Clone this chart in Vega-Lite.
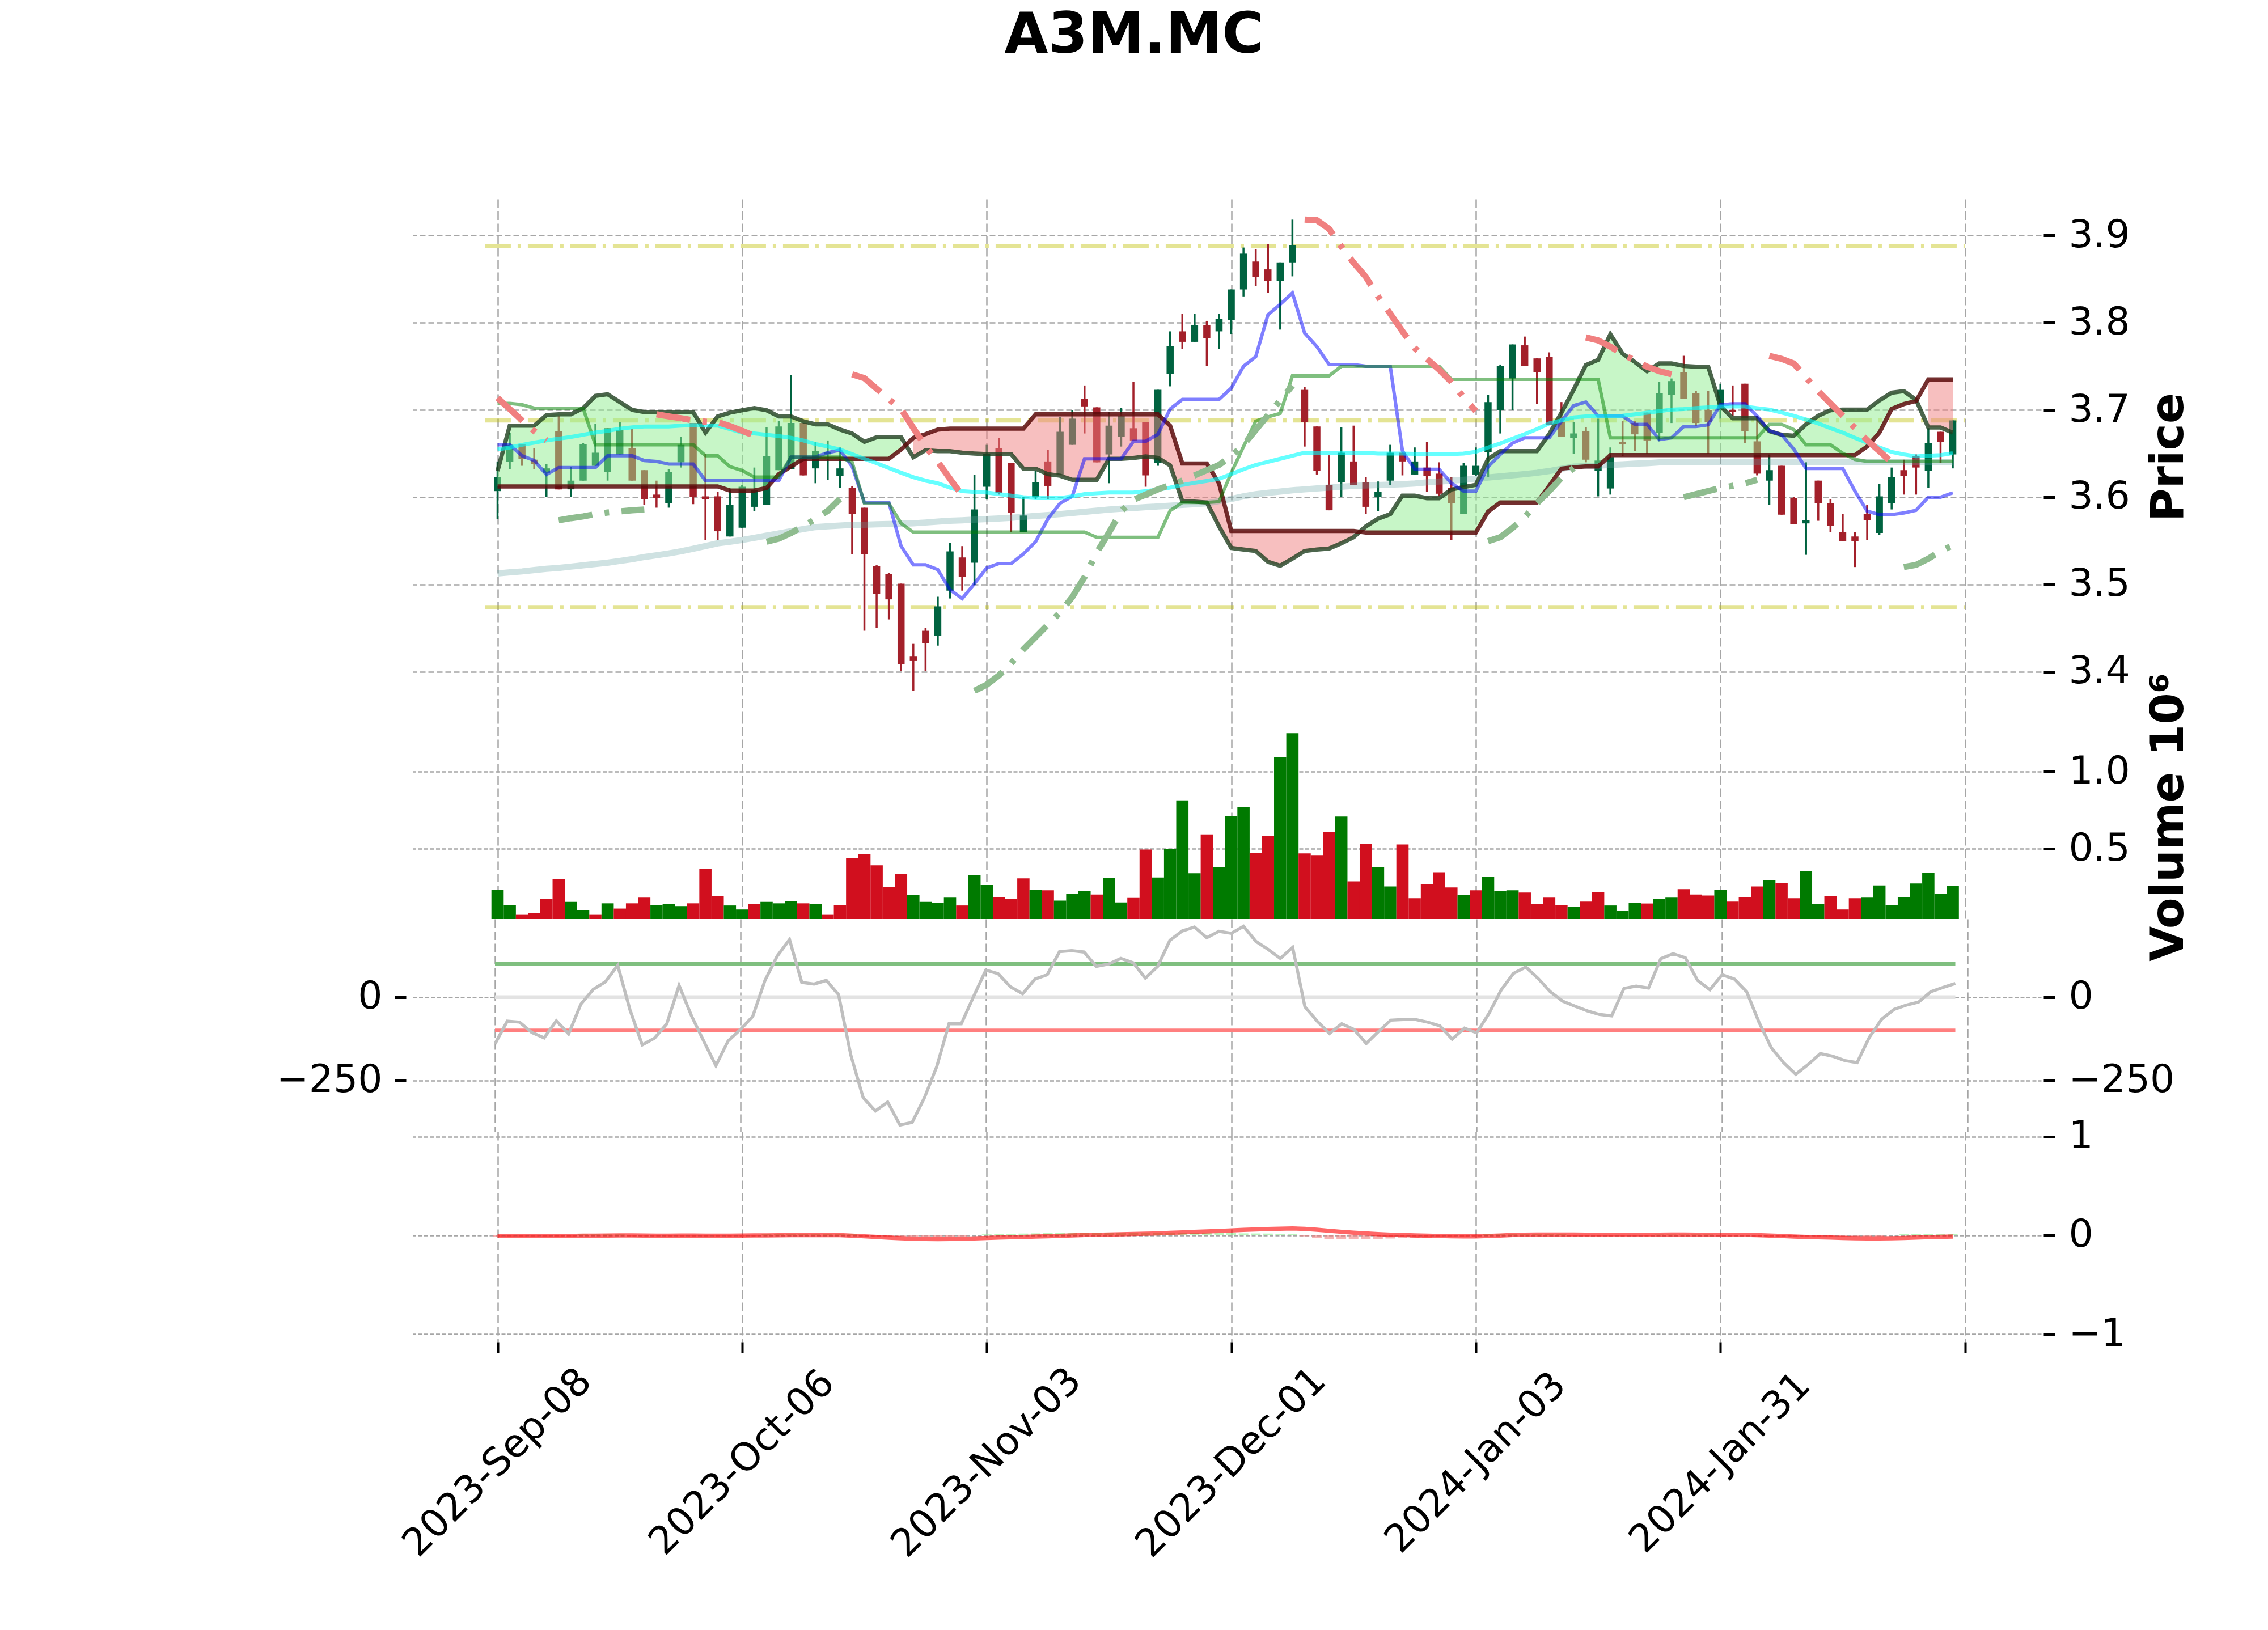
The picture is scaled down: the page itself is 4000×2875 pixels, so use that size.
{
"$schema": "https://vega.github.io/schema/vega-lite/v6.json",
"usermeta": {"embedOptions": {"actions": false}},
"background": "white",
"padding": {"left": 487, "top": 13, "right": 5, "bottom": 5},
"config": {
  "font": "DejaVu Sans",
  "view": {"stroke": null},
  "axis": {"labelFont": "DejaVu Sans", "labelFontSize": 68, "labelColor": "black", "labelLimit": 0, "titleFont": "DejaVu Sans", "titleFontSize": 80, "titleFontWeight": "bold", "titleColor": "black", "titleLimit": 0, "domain": false, "tickColor": "black", "tickSize": 20, "tickWidth": 5, "gridColor": "#a6a6a6", "gridWidth": 2.5, "gridDash": [7, 3.5]}
},
"title": {"text": "A3M.MC", "font": "DejaVu Sans", "fontSize": 100, "fontWeight": "bold", "color": "black", "anchor": "middle", "frame": "group", "dx": -164, "offset": 158, "baseline": "alphabetic"},
"spacing": 0,
"bounds": "flush",
"resolve": {"scale": {"color": "independent"}},
"data": {"name": "d"},
"datasets": {
"lv": [{"y": 3.8877, "x0": -1, "x1": 120}, {"y": 3.688, "x0": -1, "x1": 120}, {"y": 3.474, "x0": -1, "x1": 120}],
"cl": [{"y": 0, "k": "z", "x0": 0, "x1": 119}, {"y": 100, "k": "g", "x0": 0, "x1": 119}, {"y": -100, "k": "r", "x0": 0, "x1": 119}],
"d": [
{"i":0,"o":3.607,"h":3.641,"l":3.575,"c":3.623,"v":0.235,"vc":"u","cci":-140,"m":-0.006,"hs":-0.012,"tk":3.66,"kj":3.7074,"sa":3.63,"sb":3.6123,"seg":1,"m1":3.6546,"m2":3.5127,"pr":3.7137,"pg":null},
{"i":1,"o":3.6405,"h":3.674,"l":3.632,"c":3.66,"v":0.137,"vc":"u","cci":-72,"m":-0.006,"hs":-0.012,"tk":3.66,"kj":3.7074,"sa":3.682,"sb":3.6123,"seg":1,"m1":3.657,"m2":3.514,"pr":3.701,"pg":null},
{"i":2,"o":3.661,"h":3.661,"l":3.636,"c":3.644,"v":0.076,"vc":"d","cci":-75,"m":-0.006,"hs":-0.012,"tk":3.6475,"kj":3.706,"sa":3.682,"sb":3.6123,"seg":1,"m1":3.66,"m2":3.515,"pr":3.688,"pg":null},
{"i":3,"o":3.643,"h":3.656,"l":3.632,"c":3.638,"v":0.084,"vc":"d","cci":-106,"m":-0.006,"hs":-0.012,"tk":3.642,"kj":3.702,"sa":3.682,"sb":3.6123,"seg":1,"m1":3.6625,"m2":3.5165,"pr":3.6757,"pg":null},
{"i":4,"o":3.628,"h":3.638,"l":3.6,"c":3.633,"v":0.174,"vc":"d","cci":-122,"m":-0.006,"hs":-0.012,"tk":3.626,"kj":3.702,"sa":3.694,"sb":3.6123,"seg":1,"m1":3.665,"m2":3.518,"pr":3.665,"pg":null},
{"i":5,"o":3.676,"h":3.693,"l":3.609,"c":3.609,"v":0.303,"vc":"d","cci":-71,"m":-0.005,"hs":-0.012,"tk":3.634,"kj":3.702,"sa":3.695,"sb":3.6123,"seg":1,"m1":3.667,"m2":3.519,"pr":null,"pg":3.5736},
{"i":6,"o":3.609,"h":3.635,"l":3.6,"c":3.619,"v":0.156,"vc":"u","cci":-110,"m":-0.005,"hs":-0.012,"tk":3.634,"kj":3.702,"sa":3.695,"sb":3.6123,"seg":1,"m1":3.669,"m2":3.5205,"pr":null,"pg":3.576},
{"i":7,"o":3.619,"h":3.662,"l":3.619,"c":3.661,"v":0.104,"vc":"u","cci":-21,"m":-0.004,"hs":0.01,"tk":3.634,"kj":3.702,"sa":3.702,"sb":3.6123,"seg":1,"m1":3.6715,"m2":3.522,"pr":null,"pg":3.578},
{"i":8,"o":3.636,"h":3.684,"l":3.636,"c":3.651,"v":0.076,"vc":"d","cci":23,"m":-0.003,"hs":0.01,"tk":3.634,"kj":3.66,"sa":3.716,"sb":3.6123,"seg":1,"m1":3.674,"m2":3.5235,"pr":null,"pg":3.5806},
{"i":9,"o":3.629,"h":3.679,"l":3.619,"c":3.679,"v":0.147,"vc":"u","cci":46,"m":-0.002,"hs":0.01,"tk":3.6475,"kj":3.66,"sa":3.718,"sb":3.6123,"seg":1,"m1":3.676,"m2":3.525,"pr":null,"pg":3.5824},
{"i":10,"o":3.649,"h":3.686,"l":3.649,"c":3.677,"v":0.113,"vc":"d","cci":95,"m":-0.001,"hs":0.01,"tk":3.6475,"kj":3.66,"sa":3.709,"sb":3.6123,"seg":1,"m1":3.6785,"m2":3.527,"pr":null,"pg":3.5838},
{"i":11,"o":3.656,"h":3.678,"l":3.619,"c":3.619,"v":0.147,"vc":"d","cci":-38,"m":-0.001,"hs":-0.01,"tk":3.6475,"kj":3.66,"sa":3.7,"sb":3.6123,"seg":1,"m1":3.68,"m2":3.529,"pr":null,"pg":3.585},
{"i":12,"o":3.631,"h":3.631,"l":3.591,"c":3.598,"v":0.184,"vc":"d","cci":-143,"m":-0.002,"hs":-0.01,"tk":3.642,"kj":3.66,"sa":3.6975,"sb":3.6123,"seg":1,"m1":3.681,"m2":3.5315,"pr":null,"pg":3.5859},
{"i":13,"o":3.603,"h":3.619,"l":3.588,"c":3.599,"v":0.137,"vc":"u","cci":-123,"m":-0.003,"hs":-0.01,"tk":3.641,"kj":3.66,"sa":3.6975,"sb":3.6123,"seg":1,"m1":3.681,"m2":3.5335,"pr":3.695,"pg":null},
{"i":14,"o":3.593,"h":3.632,"l":3.588,"c":3.629,"v":0.143,"vc":"u","cci":-80,"m":-0.003,"hs":-0.01,"tk":3.638,"kj":3.66,"sa":3.6975,"sb":3.6123,"seg":1,"m1":3.681,"m2":3.5356,"pr":3.6926,"pg":null},
{"i":15,"o":3.64,"h":3.669,"l":3.634,"c":3.66,"v":0.129,"vc":"u","cci":35,"m":-0.002,"hs":-0.01,"tk":3.638,"kj":3.66,"sa":3.6975,"sb":3.6123,"seg":1,"m1":3.682,"m2":3.538,"pr":3.6905,"pg":null},
{"i":16,"o":3.685,"h":3.685,"l":3.592,"c":3.6,"v":0.147,"vc":"d","cci":-55,"m":-0.002,"hs":-0.01,"tk":3.638,"kj":3.66,"sa":3.6975,"sb":3.6123,"seg":1,"m1":3.6827,"m2":3.541,"pr":3.688,"pg":null},
{"i":17,"o":3.601,"h":3.65,"l":3.551,"c":3.598,"v":0.372,"vc":"d","cci":-131,"m":-0.003,"hs":-0.01,"tk":3.619,"kj":3.6475,"sa":3.674,"sb":3.6123,"seg":1,"m1":3.682,"m2":3.544,"pr":3.6865,"pg":null},
{"i":18,"o":3.601,"h":3.606,"l":3.551,"c":3.561,"v":0.195,"vc":"d","cci":-205,"m":-0.004,"hs":-0.01,"tk":3.619,"kj":3.6475,"sa":3.6926,"sb":3.6123,"seg":1,"m1":3.682,"m2":3.5472,"pr":3.686,"pg":null},
{"i":19,"o":3.555,"h":3.61,"l":3.555,"c":3.591,"v":0.133,"vc":"u","cci":-131,"m":-0.003,"hs":-0.01,"tk":3.619,"kj":3.635,"sa":3.6968,"sb":3.6077,"seg":1,"m1":3.678,"m2":3.549,"pr":3.6815,"pg":null},
{"i":20,"o":3.565,"h":3.614,"l":3.565,"c":3.612,"v":0.107,"vc":"u","cci":-97,"m":-0.002,"hs":-0.01,"tk":3.619,"kj":3.6306,"sa":3.6996,"sb":3.6077,"seg":1,"m1":3.674,"m2":3.551,"pr":3.676,"pg":null},
{"i":21,"o":3.589,"h":3.634,"l":3.584,"c":3.608,"v":0.141,"vc":"d","cci":-58,"m":-0.001,"hs":-0.01,"tk":3.619,"kj":3.623,"sa":3.702,"sb":3.6077,"seg":1,"m1":3.673,"m2":3.5535,"pr":3.6704,"pg":null},
{"i":22,"o":3.591,"h":3.68,"l":3.591,"c":3.647,"v":0.156,"vc":"u","cci":50,"m":0.0,"hs":0.012,"tk":3.619,"kj":3.623,"sa":3.6996,"sb":3.6106,"seg":1,"m1":3.6715,"m2":3.556,"pr":null,"pg":3.549},
{"i":23,"o":3.631,"h":3.687,"l":3.631,"c":3.681,"v":0.147,"vc":"u","cci":123,"m":0.001,"hs":0.012,"tk":3.619,"kj":3.623,"sa":3.6926,"sb":3.6264,"seg":1,"m1":3.67,"m2":3.5585,"pr":null,"pg":3.5525},
{"i":24,"o":3.632,"h":3.74,"l":3.632,"c":3.685,"v":0.162,"vc":"u","cci":172,"m":0.002,"hs":0.012,"tk":3.646,"kj":3.646,"sa":3.6926,"sb":3.6352,"seg":1,"m1":3.668,"m2":3.561,"pr":null,"pg":3.559},
{"i":25,"o":3.685,"h":3.685,"l":3.625,"c":3.625,"v":0.147,"vc":"d","cci":44,"m":0.002,"hs":0.012,"tk":3.646,"kj":3.646,"sa":3.687,"sb":3.644,"seg":1,"m1":3.665,"m2":3.5635,"pr":null,"pg":3.567},
{"i":26,"o":3.633,"h":3.663,"l":3.616,"c":3.653,"v":0.141,"vc":"u","cci":39,"m":0.002,"hs":0.012,"tk":3.646,"kj":3.646,"sa":3.6835,"sb":3.644,"seg":1,"m1":3.661,"m2":3.5658,"pr":null,"pg":3.575},
{"i":27,"o":3.649,"h":3.665,"l":3.62,"c":3.652,"v":0.076,"vc":"d","cci":50,"m":0.002,"hs":0.012,"tk":3.651,"kj":3.646,"sa":3.6835,"sb":3.644,"seg":1,"m1":3.658,"m2":3.5667,"pr":null,"pg":3.5845},
{"i":28,"o":3.624,"h":3.657,"l":3.611,"c":3.633,"v":0.137,"vc":"d","cci":7,"m":0.002,"hs":0.012,"tk":3.654,"kj":3.646,"sa":3.6775,"sb":3.644,"seg":1,"m1":3.6546,"m2":3.5675,"pr":null,"pg":3.598},
{"i":29,"o":3.611,"h":3.613,"l":3.535,"c":3.581,"v":0.441,"vc":"d","cci":-174,"m":-0.003,"hs":0.012,"tk":3.635,"kj":3.64,"sa":3.6729,"sb":3.644,"seg":1,"m1":3.6493,"m2":3.5683,"pr":3.7408,"pg":null},
{"i":30,"o":3.588,"h":3.588,"l":3.447,"c":3.535,"v":0.465,"vc":"d","cci":-301,"m":-0.01,"hs":-0.015,"tk":3.594,"kj":3.593,"sa":3.6634,"sb":3.644,"seg":1,"m1":3.644,"m2":3.5685,"pr":3.7363,"pg":null},
{"i":31,"o":3.521,"h":3.522,"l":3.45,"c":3.489,"v":0.394,"vc":"d","cci":-341,"m":-0.017,"hs":-0.015,"tk":3.594,"kj":3.593,"sa":3.6687,"sb":3.644,"seg":1,"m1":3.639,"m2":3.569,"pr":3.7243,"pg":null},
{"i":32,"o":3.512,"h":3.513,"l":3.46,"c":3.483,"v":0.251,"vc":"d","cci":-314,"m":-0.023,"hs":-0.015,"tk":3.594,"kj":3.593,"sa":3.6687,"sb":3.644,"seg":1,"m1":3.6335,"m2":3.5693,"pr":3.7123,"pg":null},
{"i":33,"o":3.501,"h":3.501,"l":3.401,"c":3.409,"v":0.336,"vc":"d","cci":-383,"m":-0.03,"hs":-0.015,"tk":3.544,"kj":3.57,"sa":3.6687,"sb":3.6546,"seg":1,"m1":3.628,"m2":3.5697,"pr":3.701,"pg":null},
{"i":34,"o":3.418,"h":3.432,"l":3.378,"c":3.413,"v":0.202,"vc":"u","cci":-375,"m":-0.034,"hs":-0.015,"tk":3.5225,"kj":3.56,"sa":3.6458,"sb":3.668,"seg":2,"m1":3.623,"m2":3.5701,"pr":3.6792,"pg":null},
{"i":35,"o":3.447,"h":3.45,"l":3.401,"c":3.433,"v":0.156,"vc":"u","cci":-301,"m":-0.037,"hs":-0.015,"tk":3.5225,"kj":3.56,"sa":3.6539,"sb":3.6722,"seg":2,"m1":3.619,"m2":3.571,"pr":3.6581,"pg":null},
{"i":36,"o":3.441,"h":3.486,"l":3.43,"c":3.475,"v":0.149,"vc":"u","cci":-208,"m":-0.038,"hs":-0.015,"tk":3.517,"kj":3.56,"sa":3.6528,"sb":3.6775,"seg":2,"m1":3.616,"m2":3.572,"pr":3.6405,"pg":null},
{"i":37,"o":3.493,"h":3.548,"l":3.484,"c":3.538,"v":0.184,"vc":"u","cci":-80,"m":-0.037,"hs":-0.015,"tk":3.494,"kj":3.56,"sa":3.6528,"sb":3.6785,"seg":2,"m1":3.611,"m2":3.573,"pr":3.6211,"pg":null},
{"i":38,"o":3.531,"h":3.544,"l":3.493,"c":3.509,"v":0.133,"vc":"d","cci":-80,"m":-0.035,"hs":-0.015,"tk":3.484,"kj":3.56,"sa":3.651,"sb":3.6785,"seg":2,"m1":3.607,"m2":3.5736,"pr":3.602,"pg":null},
{"i":39,"o":3.525,"h":3.626,"l":3.5,"c":3.586,"v":0.33,"vc":"u","cci":2,"m":-0.031,"hs":0.005,"tk":3.501,"kj":3.56,"sa":3.65,"sb":3.6785,"seg":2,"m1":3.606,"m2":3.5743,"pr":null,"pg":3.3782},
{"i":40,"o":3.612,"h":3.66,"l":3.598,"c":3.65,"v":0.266,"vc":"u","cci":81,"m":-0.026,"hs":0.01,"tk":3.519,"kj":3.56,"sa":3.6493,"sb":3.6785,"seg":2,"m1":3.6053,"m2":3.575,"pr":null,"pg":3.3852},
{"i":41,"o":3.656,"h":3.668,"l":3.603,"c":3.605,"v":0.189,"vc":"d","cci":70,"m":-0.022,"hs":0.013,"tk":3.524,"kj":3.56,"sa":3.6493,"sb":3.6785,"seg":2,"m1":3.6035,"m2":3.5757,"pr":null,"pg":3.3958},
{"i":42,"o":3.639,"h":3.639,"l":3.56,"c":3.582,"v":0.174,"vc":"d","cci":31,"m":-0.019,"hs":0.015,"tk":3.524,"kj":3.56,"sa":3.6493,"sb":3.6785,"seg":2,"m1":3.6018,"m2":3.5764,"pr":null,"pg":3.4099},
{"i":43,"o":3.56,"h":3.6,"l":3.56,"c":3.579,"v":0.309,"vc":"d","cci":10,"m":-0.016,"hs":0.018,"tk":3.535,"kj":3.56,"sa":3.6327,"sb":3.6785,"seg":2,"m1":3.6,"m2":3.5775,"pr":null,"pg":3.4257},
{"i":44,"o":3.6,"h":3.63,"l":3.598,"c":3.617,"v":0.235,"vc":"u","cci":54,"m":-0.012,"hs":0.02,"tk":3.549,"kj":3.56,"sa":3.6327,"sb":3.695,"seg":2,"m1":3.599,"m2":3.5785,"pr":null,"pg":3.4398},
{"i":45,"o":3.641,"h":3.654,"l":3.598,"c":3.613,"v":0.232,"vc":"d","cci":67,"m":-0.009,"hs":0.022,"tk":3.575,"kj":3.56,"sa":3.6264,"sb":3.695,"seg":2,"m1":3.599,"m2":3.5795,"pr":null,"pg":3.4539},
{"i":46,"o":3.626,"h":3.692,"l":3.626,"c":3.675,"v":0.165,"vc":"u","cci":136,"m":-0.005,"hs":0.025,"tk":3.593,"kj":3.56,"sa":3.6246,"sb":3.695,"seg":2,"m1":3.599,"m2":3.5806,"pr":null,"pg":3.468},
{"i":47,"o":3.66,"h":3.7,"l":3.66,"c":3.69,"v":0.208,"vc":"u","cci":139,"m":-0.001,"hs":0.025,"tk":3.601,"kj":3.56,"sa":3.62,"sb":3.695,"seg":2,"m1":3.601,"m2":3.582,"pr":null,"pg":3.4856},
{"i":48,"o":3.713,"h":3.728,"l":3.673,"c":3.704,"v":0.226,"vc":"u","cci":135,"m":0.003,"hs":0.025,"tk":3.644,"kj":3.56,"sa":3.62,"sb":3.695,"seg":2,"m1":3.6035,"m2":3.5833,"pr":null,"pg":3.5085},
{"i":49,"o":3.703,"h":3.703,"l":3.64,"c":3.64,"v":0.204,"vc":"d","cci":92,"m":0.005,"hs":0.025,"tk":3.644,"kj":3.554,"sa":3.62,"sb":3.695,"seg":2,"m1":3.6045,"m2":3.5846,"pr":null,"pg":3.5366},
{"i":50,"o":3.649,"h":3.698,"l":3.616,"c":3.682,"v":0.311,"vc":"u","cci":99,"m":0.008,"hs":0.025,"tk":3.644,"kj":3.554,"sa":3.644,"sb":3.695,"seg":2,"m1":3.6053,"m2":3.5859,"pr":null,"pg":3.5595},
{"i":51,"o":3.669,"h":3.702,"l":3.658,"c":3.693,"v":0.153,"vc":"u","cci":116,"m":0.011,"hs":0.025,"tk":3.644,"kj":3.554,"sa":3.644,"sb":3.695,"seg":2,"m1":3.6053,"m2":3.5868,"pr":null,"pg":3.5842},
{"i":52,"o":3.679,"h":3.732,"l":3.665,"c":3.665,"v":0.182,"vc":"d","cci":103,"m":0.014,"hs":0.025,"tk":3.664,"kj":3.554,"sa":3.645,"sb":3.695,"seg":2,"m1":3.6053,"m2":3.5877,"pr":null,"pg":3.597},
{"i":53,"o":3.686,"h":3.686,"l":3.612,"c":3.625,"v":0.496,"vc":"d","cci":57,"m":0.016,"hs":0.025,"tk":3.664,"kj":3.554,"sa":3.6468,"sb":3.695,"seg":2,"m1":3.607,"m2":3.5886,"pr":null,"pg":3.603},
{"i":54,"o":3.639,"h":3.723,"l":3.636,"c":3.723,"v":0.315,"vc":"u","cci":92,"m":0.02,"hs":0.025,"tk":3.672,"kj":3.554,"sa":3.6451,"sb":3.695,"seg":2,"m1":3.6088,"m2":3.5894,"pr":null,"pg":3.609},
{"i":55,"o":3.741,"h":3.79,"l":3.727,"c":3.773,"v":0.499,"vc":"u","cci":170,"m":0.025,"hs":0.025,"tk":3.701,"kj":3.5845,"sa":3.6365,"sb":3.682,"seg":2,"m1":3.611,"m2":3.5903,"pr":null,"pg":3.614},
{"i":56,"o":3.79,"h":3.81,"l":3.77,"c":3.778,"v":0.815,"vc":"u","cci":198,"m":0.03,"hs":0.025,"tk":3.712,"kj":3.594,"sa":3.5955,"sb":3.6387,"seg":2,"m1":3.614,"m2":3.5912,"pr":null,"pg":3.619},
{"i":57,"o":3.778,"h":3.81,"l":3.778,"c":3.797,"v":0.342,"vc":"u","cci":210,"m":0.035,"hs":0.025,"tk":3.712,"kj":3.594,"sa":3.595,"sb":3.6387,"seg":2,"m1":3.6165,"m2":3.5921,"pr":null,"pg":3.625},
{"i":58,"o":3.797,"h":3.802,"l":3.75,"c":3.782,"v":0.594,"vc":"d","cci":178,"m":0.04,"hs":0.025,"tk":3.712,"kj":3.594,"sa":3.594,"sb":3.6387,"seg":2,"m1":3.6187,"m2":3.593,"pr":null,"pg":3.631},
{"i":59,"o":3.79,"h":3.81,"l":3.77,"c":3.804,"v":0.382,"vc":"u","cci":197,"m":0.044,"hs":0.023,"tk":3.712,"kj":3.595,"sa":3.5665,"sb":3.6158,"seg":2,"m1":3.6211,"m2":3.5955,"pr":null,"pg":3.637},
{"i":60,"o":3.803,"h":3.838,"l":3.787,"c":3.838,"v":0.713,"vc":"u","cci":191,"m":0.049,"hs":0.022,"tk":3.725,"kj":3.628,"sa":3.5419,"sb":3.5613,"seg":2,"m1":3.6264,"m2":3.598,"pr":null,"pg":3.647},
{"i":61,"o":3.838,"h":3.886,"l":3.83,"c":3.879,"v":0.771,"vc":"u","cci":212,"m":0.055,"hs":0.02,"tk":3.75,"kj":3.658,"sa":3.5401,"sb":3.5613,"seg":2,"m1":3.632,"m2":3.601,"pr":null,"pg":3.66},
{"i":62,"o":3.87,"h":3.884,"l":3.842,"c":3.852,"v":0.474,"vc":"d","cci":167,"m":0.06,"hs":0.019,"tk":3.761,"kj":3.687,"sa":3.5384,"sb":3.5613,"seg":2,"m1":3.637,"m2":3.6035,"pr":null,"pg":3.677},
{"i":63,"o":3.861,"h":3.89,"l":3.834,"c":3.848,"v":0.582,"vc":"d","cci":143,"m":0.064,"hs":0.018,"tk":3.809,"kj":3.692,"sa":3.526,"sb":3.5613,"seg":2,"m1":3.6405,"m2":3.605,"pr":null,"pg":3.694},
{"i":64,"o":3.848,"h":3.869,"l":3.792,"c":3.869,"v":1.097,"vc":"u","cci":116,"m":0.067,"hs":0.016,"tk":3.821,"kj":3.696,"sa":3.5215,"sb":3.5613,"seg":2,"m1":3.644,"m2":3.6065,"pr":null,"pg":3.711},
{"i":65,"o":3.869,"h":3.918,"l":3.853,"c":3.889,"v":1.25,"vc":"u","cci":149,"m":0.07,"hs":0.015,"tk":3.834,"kj":3.739,"sa":3.5296,"sb":3.5613,"seg":2,"m1":3.6475,"m2":3.608,"pr":null,"pg":3.728},
{"i":66,"o":3.723,"h":3.726,"l":3.658,"c":3.686,"v":0.471,"vc":"d","cci":-29,"m":0.066,"hs":-0.01,"tk":3.788,"kj":3.739,"sa":3.5384,"sb":3.5613,"seg":2,"m1":3.651,"m2":3.609,"pr":3.918,"pg":null},
{"i":67,"o":3.681,"h":3.681,"l":3.626,"c":3.63,"v":0.46,"vc":"d","cci":-72,"m":0.057,"hs":-0.025,"tk":3.7725,"kj":3.739,"sa":3.5401,"sb":3.5613,"seg":2,"m1":3.651,"m2":3.61,"pr":3.9173,"pg":null},
{"i":68,"o":3.614,"h":3.648,"l":3.585,"c":3.585,"v":0.611,"vc":"d","cci":-109,"m":0.046,"hs":-0.035,"tk":3.752,"kj":3.739,"sa":3.5412,"sb":3.5613,"seg":2,"m1":3.651,"m2":3.611,"pr":3.9074,"pg":null},
{"i":69,"o":3.617,"h":3.68,"l":3.6,"c":3.651,"v":0.71,"vc":"u","cci":-80,"m":0.036,"hs":-0.04,"tk":3.752,"kj":3.75,"sa":3.5472,"sb":3.5613,"seg":2,"m1":3.651,"m2":3.612,"pr":3.887,"pg":null},
{"i":70,"o":3.641,"h":3.682,"l":3.614,"c":3.614,"v":0.29,"vc":"d","cci":-97,"m":0.027,"hs":-0.04,"tk":3.752,"kj":3.75,"sa":3.5542,"sb":3.5613,"seg":2,"m1":3.651,"m2":3.613,"pr":3.8687,"pg":null},
{"i":71,"o":3.617,"h":3.623,"l":3.581,"c":3.589,"v":0.533,"vc":"d","cci":-139,"m":0.019,"hs":-0.038,"tk":3.75,"kj":3.75,"sa":3.5665,"sb":3.5595,"seg":3,"m1":3.651,"m2":3.6135,"pr":3.8525,"pg":null},
{"i":72,"o":3.6,"h":3.618,"l":3.584,"c":3.606,"v":0.38,"vc":"u","cci":-103,"m":0.012,"hs":-0.035,"tk":3.75,"kj":3.75,"sa":3.5754,"sb":3.5595,"seg":3,"m1":3.65,"m2":3.614,"pr":3.83,"pg":null},
{"i":73,"o":3.619,"h":3.66,"l":3.614,"c":3.651,"v":0.257,"vc":"u","cci":-69,"m":0.007,"hs":-0.032,"tk":3.75,"kj":3.75,"sa":3.5806,"sb":3.5595,"seg":3,"m1":3.65,"m2":3.6145,"pr":3.8102,"pg":null},
{"i":74,"o":3.651,"h":3.651,"l":3.625,"c":3.641,"v":0.529,"vc":"d","cci":-67,"m":0.003,"hs":-0.028,"tk":3.653,"kj":3.75,"sa":3.6018,"sb":3.5595,"seg":3,"m1":3.65,"m2":3.615,"pr":3.7901,"pg":null},
{"i":75,"o":3.626,"h":3.657,"l":3.626,"c":3.641,"v":0.18,"vc":"d","cci":-67,"m":0.0,"hs":-0.025,"tk":3.632,"kj":3.75,"sa":3.6018,"sb":3.5595,"seg":3,"m1":3.6497,"m2":3.6158,"pr":3.7708,"pg":null},
{"i":76,"o":3.634,"h":3.663,"l":3.606,"c":3.624,"v":0.272,"vc":"d","cci":-75,"m":-0.003,"hs":-0.021,"tk":3.632,"kj":3.75,"sa":3.5989,"sb":3.5595,"seg":3,"m1":3.6495,"m2":3.617,"pr":3.7585,"pg":null},
{"i":77,"o":3.627,"h":3.64,"l":3.601,"c":3.604,"v":0.349,"vc":"d","cci":-86,"m":-0.006,"hs":-0.018,"tk":3.632,"kj":3.75,"sa":3.5989,"sb":3.5595,"seg":3,"m1":3.6494,"m2":3.618,"pr":3.7461,"pg":null},
{"i":78,"o":3.611,"h":3.623,"l":3.551,"c":3.593,"v":0.25,"vc":"d","cci":-126,"m":-0.009,"hs":-0.015,"tk":3.616,"kj":3.735,"sa":3.6088,"sb":3.5595,"seg":3,"m1":3.6493,"m2":3.619,"pr":3.732,"pg":null},
{"i":79,"o":3.581,"h":3.639,"l":3.581,"c":3.636,"v":0.202,"vc":"u","cci":-93,"m":-0.011,"hs":-0.012,"tk":3.607,"kj":3.735,"sa":3.6116,"sb":3.5595,"seg":3,"m1":3.65,"m2":3.62,"pr":3.7144,"pg":null},
{"i":80,"o":3.626,"h":3.657,"l":3.624,"c":3.636,"v":0.232,"vc":"d","cci":-107,"m":-0.011,"hs":-0.01,"tk":3.607,"kj":3.735,"sa":3.6141,"sb":3.5595,"seg":3,"m1":3.652,"m2":3.6211,"pr":3.6986,"pg":null},
{"i":81,"o":3.652,"h":3.717,"l":3.623,"c":3.709,"v":0.317,"vc":"u","cci":-49,"m":-0.007,"hs":0.012,"tk":3.635,"kj":3.735,"sa":3.644,"sb":3.5835,"seg":3,"m1":3.657,"m2":3.6225,"pr":null,"pg":3.5496},
{"i":82,"o":3.7,"h":3.752,"l":3.673,"c":3.75,"v":0.225,"vc":"u","cci":22,"m":-0.002,"hs":0.012,"tk":3.649,"kj":3.735,"sa":3.6528,"sb":3.594,"seg":3,"m1":3.6616,"m2":3.6238,"pr":null,"pg":3.5542},
{"i":83,"o":3.736,"h":3.775,"l":3.7,"c":3.775,"v":0.232,"vc":"u","cci":71,"m":0.003,"hs":0.012,"tk":3.662,"kj":3.735,"sa":3.6528,"sb":3.594,"seg":3,"m1":3.667,"m2":3.6251,"pr":null,"pg":3.5648},
{"i":84,"o":3.774,"h":3.784,"l":3.75,"c":3.75,"v":0.217,"vc":"d","cci":90,"m":0.006,"hs":0.012,"tk":3.668,"kj":3.735,"sa":3.6528,"sb":3.594,"seg":3,"m1":3.6722,"m2":3.6264,"pr":null,"pg":3.5771},
{"i":85,"o":3.759,"h":3.759,"l":3.707,"c":3.743,"v":0.141,"vc":"d","cci":56,"m":0.008,"hs":0.012,"tk":3.668,"kj":3.735,"sa":3.6528,"sb":3.594,"seg":3,"m1":3.678,"m2":3.628,"pr":null,"pg":3.593},
{"i":86,"o":3.761,"h":3.766,"l":3.683,"c":3.683,"v":0.184,"vc":"d","cci":16,"m":0.008,"hs":0.012,"tk":3.668,"kj":3.735,"sa":3.6722,"sb":3.613,"seg":3,"m1":3.6845,"m2":3.63,"pr":null,"pg":3.607},
{"i":87,"o":3.686,"h":3.709,"l":3.669,"c":3.669,"v":0.137,"vc":"d","cci":-12,"m":0.008,"hs":0.012,"tk":3.687,"kj":3.735,"sa":3.6968,"sb":3.6327,"seg":3,"m1":3.688,"m2":3.6325,"pr":null,"pg":3.6222},
{"i":88,"o":3.668,"h":3.686,"l":3.65,"c":3.673,"v":0.125,"vc":"u","cci":-27,"m":0.008,"hs":-0.006,"tk":3.705,"kj":3.735,"sa":3.7232,"sb":3.6342,"seg":3,"m1":3.6915,"m2":3.635,"pr":null,"pg":3.6335},
{"i":89,"o":3.676,"h":3.68,"l":3.64,"c":3.643,"v":0.158,"vc":"d","cci":-41,"m":0.007,"hs":-0.006,"tk":3.709,"kj":3.735,"sa":3.7514,"sb":3.6352,"seg":3,"m1":3.6926,"m2":3.6355,"pr":3.7831,"pg":null},
{"i":90,"o":3.63,"h":3.69,"l":3.601,"c":3.642,"v":0.219,"vc":"d","cci":-52,"m":0.006,"hs":-0.006,"tk":3.693,"kj":3.735,"sa":3.7574,"sb":3.6352,"seg":3,"m1":3.6926,"m2":3.636,"pr":3.7796,"pg":null},
{"i":91,"o":3.61,"h":3.657,"l":3.603,"c":3.646,"v":0.133,"vc":"u","cci":-56,"m":0.005,"hs":-0.006,"tk":3.693,"kj":3.668,"sa":3.7866,"sb":3.6482,"seg":3,"m1":3.693,"m2":3.637,"pr":3.7725,"pg":null},
{"i":92,"o":3.663,"h":3.687,"l":3.647,"c":3.661,"v":0.097,"vc":"u","cci":26,"m":0.005,"hs":-0.006,"tk":3.693,"kj":3.668,"sa":3.7644,"sb":3.6482,"seg":3,"m1":3.6933,"m2":3.6377,"pr":3.7637,"pg":null},
{"i":93,"o":3.685,"h":3.687,"l":3.653,"c":3.672,"v":0.152,"vc":"u","cci":33,"m":0.005,"hs":-0.006,"tk":3.6835,"kj":3.668,"sa":3.7549,"sb":3.6482,"seg":3,"m1":3.695,"m2":3.6385,"pr":3.7567,"pg":null},
{"i":94,"o":3.697,"h":3.697,"l":3.65,"c":3.665,"v":0.146,"vc":"d","cci":27,"m":0.005,"hs":-0.006,"tk":3.6835,"kj":3.668,"sa":3.7444,"sb":3.6482,"seg":3,"m1":3.6968,"m2":3.639,"pr":3.7496,"pg":null},
{"i":95,"o":3.674,"h":3.732,"l":3.664,"c":3.719,"v":0.174,"vc":"u","cci":115,"m":0.007,"hs":0.008,"tk":3.666,"kj":3.668,"sa":3.7532,"sb":3.6482,"seg":3,"m1":3.6986,"m2":3.64,"pr":3.7444,"pg":null},
{"i":96,"o":3.717,"h":3.736,"l":3.685,"c":3.733,"v":0.184,"vc":"u","cci":130,"m":0.008,"hs":0.008,"tk":3.668,"kj":3.668,"sa":3.7532,"sb":3.6482,"seg":3,"m1":3.7004,"m2":3.6405,"pr":3.7408,"pg":null},
{"i":97,"o":3.743,"h":3.762,"l":3.713,"c":3.713,"v":0.239,"vc":"d","cci":118,"m":0.008,"hs":0.008,"tk":3.681,"kj":3.668,"sa":3.7504,"sb":3.6482,"seg":3,"m1":3.701,"m2":3.6405,"pr":null,"pg":3.6},
{"i":98,"o":3.719,"h":3.722,"l":3.682,"c":3.685,"v":0.204,"vc":"d","cci":50,"m":0.007,"hs":0.008,"tk":3.681,"kj":3.668,"sa":3.7496,"sb":3.6482,"seg":3,"m1":3.7021,"m2":3.6405,"pr":null,"pg":3.6035},
{"i":99,"o":3.7,"h":3.722,"l":3.65,"c":3.686,"v":0.198,"vc":"d","cci":22,"m":0.006,"hs":0.008,"tk":3.683,"kj":3.668,"sa":3.7496,"sb":3.6482,"seg":3,"m1":3.703,"m2":3.6405,"pr":null,"pg":3.607},
{"i":100,"o":3.7,"h":3.73,"l":3.69,"c":3.723,"v":0.235,"vc":"u","cci":67,"m":0.006,"hs":-0.004,"tk":3.706,"kj":3.668,"sa":3.7046,"sb":3.6482,"seg":3,"m1":3.7039,"m2":3.6405,"pr":null,"pg":3.6106},
{"i":101,"o":3.7,"h":3.728,"l":3.693,"c":3.698,"v":0.158,"vc":"d","cci":54,"m":0.006,"hs":-0.004,"tk":3.707,"kj":3.668,"sa":3.6905,"sb":3.6482,"seg":3,"m1":3.7039,"m2":3.6405,"pr":null,"pg":3.613},
{"i":102,"o":3.73,"h":3.73,"l":3.662,"c":3.676,"v":0.186,"vc":"d","cci":16,"m":0.005,"hs":-0.004,"tk":3.707,"kj":3.668,"sa":3.6905,"sb":3.6482,"seg":3,"m1":3.7039,"m2":3.6405,"pr":null,"pg":3.6158},
{"i":103,"o":3.664,"h":3.693,"l":3.625,"c":3.627,"v":0.257,"vc":"d","cci":-75,"m":0.002,"hs":-0.012,"tk":3.693,"kj":3.668,"sa":3.6905,"sb":3.6482,"seg":3,"m1":3.702,"m2":3.6405,"pr":null,"pg":3.62},
{"i":104,"o":3.619,"h":3.649,"l":3.591,"c":3.631,"v":0.296,"vc":"u","cci":-151,"m":-0.002,"hs":-0.012,"tk":3.676,"kj":3.6835,"sa":3.6757,"sb":3.6482,"seg":3,"m1":3.7004,"m2":3.6405,"pr":3.762,"pg":null},
{"i":105,"o":3.636,"h":3.636,"l":3.58,"c":3.58,"v":0.278,"vc":"d","cci":-196,"m":-0.007,"hs":-0.012,"tk":3.6715,"kj":3.6835,"sa":3.6715,"sb":3.6482,"seg":3,"m1":3.697,"m2":3.6405,"pr":3.7585,"pg":null},
{"i":106,"o":3.599,"h":3.6,"l":3.569,"c":3.569,"v":0.18,"vc":"d","cci":-231,"m":-0.012,"hs":-0.012,"tk":3.655,"kj":3.6775,"sa":3.6704,"sb":3.6482,"seg":3,"m1":3.6933,"m2":3.6405,"pr":3.7532,"pg":null},
{"i":107,"o":3.57,"h":3.64,"l":3.534,"c":3.574,"v":0.355,"vc":"u","cci":-202,"m":-0.016,"hs":-0.012,"tk":3.633,"kj":3.66,"sa":3.6835,"sb":3.6482,"seg":3,"m1":3.689,"m2":3.6405,"pr":3.7373,"pg":null},
{"i":108,"o":3.619,"h":3.619,"l":3.573,"c":3.593,"v":0.141,"vc":"u","cci":-169,"m":-0.019,"hs":-0.012,"tk":3.633,"kj":3.66,"sa":3.6933,"sb":3.6482,"seg":3,"m1":3.6845,"m2":3.6405,"pr":3.7215,"pg":null},
{"i":109,"o":3.593,"h":3.598,"l":3.56,"c":3.567,"v":0.195,"vc":"d","cci":-177,"m":-0.022,"hs":-0.012,"tk":3.633,"kj":3.66,"sa":3.6996,"sb":3.6482,"seg":3,"m1":3.679,"m2":3.6405,"pr":3.7074,"pg":null},
{"i":110,"o":3.56,"h":3.581,"l":3.55,"c":3.55,"v":0.107,"vc":"d","cci":-190,"m":-0.026,"hs":-0.012,"tk":3.633,"kj":3.6504,"sa":3.7004,"sb":3.6482,"seg":3,"m1":3.674,"m2":3.6405,"pr":3.6933,"pg":null},
{"i":111,"o":3.555,"h":3.56,"l":3.52,"c":3.55,"v":0.18,"vc":"d","cci":-196,"m":-0.029,"hs":-0.012,"tk":3.607,"kj":3.6433,"sa":3.7004,"sb":3.6482,"seg":3,"m1":3.668,"m2":3.6405,"pr":3.6792,"pg":null},
{"i":112,"o":3.581,"h":3.591,"l":3.551,"c":3.574,"v":0.184,"vc":"u","cci":-120,"m":-0.031,"hs":-0.012,"tk":3.584,"kj":3.641,"sa":3.7004,"sb":3.6581,"seg":3,"m1":3.6623,"m2":3.6405,"pr":3.6651,"pg":null},
{"i":113,"o":3.559,"h":3.615,"l":3.557,"c":3.601,"v":0.263,"vc":"u","cci":-66,"m":-0.031,"hs":-0.012,"tk":3.58,"kj":3.641,"sa":3.7109,"sb":3.6739,"seg":3,"m1":3.657,"m2":3.6405,"pr":3.6528,"pg":null},
{"i":114,"o":3.593,"h":3.634,"l":3.586,"c":3.623,"v":0.137,"vc":"u","cci":-37,"m":-0.029,"hs":0.003,"tk":3.58,"kj":3.641,"sa":3.7197,"sb":3.7011,"seg":3,"m1":3.6518,"m2":3.6405,"pr":3.64,"pg":null},
{"i":115,"o":3.631,"h":3.643,"l":3.603,"c":3.624,"v":0.186,"vc":"u","cci":-24,"m":-0.026,"hs":0.015,"tk":3.582,"kj":3.641,"sa":3.7215,"sb":3.7067,"seg":3,"m1":3.649,"m2":3.6405,"pr":null,"pg":3.52},
{"i":116,"o":3.647,"h":3.649,"l":3.603,"c":3.634,"v":0.276,"vc":"u","cci":-15,"m":-0.022,"hs":0.015,"tk":3.585,"kj":3.641,"sa":3.7116,"sb":3.7102,"seg":3,"m1":3.6468,"m2":3.6405,"pr":null,"pg":3.5225},
{"i":117,"o":3.63,"h":3.679,"l":3.611,"c":3.662,"v":0.346,"vc":"u","cci":16,"m":-0.018,"hs":0.015,"tk":3.6,"kj":3.641,"sa":3.6799,"sb":3.7349,"seg":4,"m1":3.6475,"m2":3.6405,"pr":null,"pg":3.5296},
{"i":118,"o":3.675,"h":3.675,"l":3.639,"c":3.663,"v":0.207,"vc":"u","cci":29,"m":-0.015,"hs":0.015,"tk":3.6,"kj":3.641,"sa":3.6799,"sb":3.7349,"seg":4,"m1":3.6482,"m2":3.6405,"pr":null,"pg":3.5384},
{"i":119,"o":3.649,"h":3.688,"l":3.633,"c":3.688,"v":0.26,"vc":"u","cci":41,"m":-0.012,"hs":0.015,"tk":3.605,"kj":3.641,"sa":3.6739,"sb":3.7349,"seg":4,"m1":3.6504,"m2":3.6405,"pr":null,"pg":3.5447}
]
},
"vconcat": [
{
  "width": 2872, "height": 910,
  "encoding": {"x": {"field": "i", "type": "quantitative", "scale": {"domain": [-6.7, 126], "nice": false, "zero": false}, "axis": {"values": [0, 20, 40, 60, 80, 100, 120], "labels": false, "ticks": false, "domain": false, "grid": true, "gridDash": [15, 6.5], "title": null}}},
  "layer": [
    {"data": {"name": "lv"}, "mark": {"type": "rule", "color": "#bfbf00", "opacity": 0.42, "strokeWidth": 7.5, "strokeDash": [45, 12, 6, 12]},
     "encoding": {"x": {"field": "x0", "type": "quantitative", "scale": {"domain": [-6.7, 126], "nice": false, "zero": false}, "axis": {"values": [0, 20, 40, 60, 80, 100, 120], "labels": false, "ticks": false, "domain": false, "grid": true, "gridDash": [15, 6.5], "title": null}}, "x2": {"field": "x1"},
       "y": {"field": "y", "type": "quantitative", "scale": {"domain": [3.3506, 3.9416], "nice": false, "zero": false},
         "axis": {"orient": "right", "values": [3.4, 3.5, 3.6, 3.7, 3.8, 3.9], "format": ".1f", "title": "Price", "titleAngle": 270, "titleBaseline": "top", "titlePadding": 30, "offset": 4, "labelPadding": 24, "grid": true, "gridDash": [10, 5]}}}},
    {"mark": {"type": "rule", "strokeWidth": 3.5},
     "encoding": {"y": {"field": "l", "type": "quantitative", "scale": {"domain": [3.3506, 3.9416], "nice": false, "zero": false}, "axis": {"orient": "right", "values": [3.4, 3.5, 3.6, 3.7, 3.8, 3.9], "format": ".1f", "title": "Price", "titleAngle": 270, "titleBaseline": "top", "titlePadding": 30, "offset": 4, "labelPadding": 24, "grid": true, "gridDash": [10, 5]}}, "y2": {"field": "h"},
       "color": {"condition": {"test": "datum.c >= datum.o", "value": "#006340"}, "value": "#a3202a"}}},
    {"mark": {"type": "bar", "size": 12.5},
     "encoding": {"y": {"field": "o", "type": "quantitative", "scale": {"domain": [3.3506, 3.9416], "nice": false, "zero": false}, "axis": {"orient": "right", "values": [3.4, 3.5, 3.6, 3.7, 3.8, 3.9], "format": ".1f", "title": "Price", "titleAngle": 270, "titleBaseline": "top", "titlePadding": 30, "offset": 4, "labelPadding": 24, "grid": true, "gridDash": [10, 5]}}, "y2": {"field": "c"},
       "color": {"condition": {"test": "datum.c >= datum.o", "value": "#006340"}, "value": "#a3202a"}}},
    {"mark": {"type": "area", "opacity": 0.5, "invalid": "break-paths-filter-domains"},
     "encoding": {"y": {"field": "sa", "type": "quantitative", "stack": null, "scale": {"domain": [3.3506, 3.9416], "nice": false, "zero": false}, "axis": {"orient": "right", "values": [3.4, 3.5, 3.6, 3.7, 3.8, 3.9], "format": ".1f", "title": "Price", "titleAngle": 270, "titleBaseline": "top", "titlePadding": 30, "offset": 4, "labelPadding": 24, "grid": true, "gridDash": [10, 5]}}, "y2": {"field": "sb"},
       "color": {"field": "seg", "type": "nominal", "scale": {"domain": [1, 2, 3, 4], "range": ["#90ee90", "#f08080", "#90ee90", "#f08080"]}, "legend": null}}},
    {"mark": {"type": "line", "color": "#5f9ea0", "opacity": 0.3, "strokeWidth": 11},
     "encoding": {"y": {"field": "m2", "type": "quantitative", "scale": {"domain": [3.3506, 3.9416], "nice": false, "zero": false}, "axis": {"orient": "right", "values": [3.4, 3.5, 3.6, 3.7, 3.8, 3.9], "format": ".1f", "title": "Price", "titleAngle": 270, "titleBaseline": "top", "titlePadding": 30, "offset": 4, "labelPadding": 24, "grid": true, "gridDash": [10, 5]}}}},
    {"mark": {"type": "line", "color": "#1f3f1f", "opacity": 0.8, "strokeWidth": 7.5},
     "encoding": {"y": {"field": "sa", "type": "quantitative", "scale": {"domain": [3.3506, 3.9416], "nice": false, "zero": false}, "axis": {"orient": "right", "values": [3.4, 3.5, 3.6, 3.7, 3.8, 3.9], "format": ".1f", "title": "Price", "titleAngle": 270, "titleBaseline": "top", "titlePadding": 30, "offset": 4, "labelPadding": 24, "grid": true, "gridDash": [10, 5]}}}},
    {"mark": {"type": "line", "color": "#5a0a0a", "opacity": 0.85, "strokeWidth": 7.5},
     "encoding": {"y": {"field": "sb", "type": "quantitative", "scale": {"domain": [3.3506, 3.9416], "nice": false, "zero": false}, "axis": {"orient": "right", "values": [3.4, 3.5, 3.6, 3.7, 3.8, 3.9], "format": ".1f", "title": "Price", "titleAngle": 270, "titleBaseline": "top", "titlePadding": 30, "offset": 4, "labelPadding": 24, "grid": true, "gridDash": [10, 5]}}}},
    {"mark": {"type": "line", "color": "blue", "opacity": 0.5, "strokeWidth": 6},
     "encoding": {"y": {"field": "tk", "type": "quantitative", "scale": {"domain": [3.3506, 3.9416], "nice": false, "zero": false}, "axis": {"orient": "right", "values": [3.4, 3.5, 3.6, 3.7, 3.8, 3.9], "format": ".1f", "title": "Price", "titleAngle": 270, "titleBaseline": "top", "titlePadding": 30, "offset": 4, "labelPadding": 24, "grid": true, "gridDash": [10, 5]}}}},
    {"mark": {"type": "line", "color": "green", "opacity": 0.5, "strokeWidth": 6},
     "encoding": {"y": {"field": "kj", "type": "quantitative", "scale": {"domain": [3.3506, 3.9416], "nice": false, "zero": false}, "axis": {"orient": "right", "values": [3.4, 3.5, 3.6, 3.7, 3.8, 3.9], "format": ".1f", "title": "Price", "titleAngle": 270, "titleBaseline": "top", "titlePadding": 30, "offset": 4, "labelPadding": 24, "grid": true, "gridDash": [10, 5]}}}},
    {"mark": {"type": "line", "color": "cyan", "opacity": 0.6, "strokeWidth": 7},
     "encoding": {"y": {"field": "m1", "type": "quantitative", "scale": {"domain": [3.3506, 3.9416], "nice": false, "zero": false}, "axis": {"orient": "right", "values": [3.4, 3.5, 3.6, 3.7, 3.8, 3.9], "format": ".1f", "title": "Price", "titleAngle": 270, "titleBaseline": "top", "titlePadding": 30, "offset": 4, "labelPadding": 24, "grid": true, "gridDash": [10, 5]}}}},
    {"mark": {"type": "line", "color": "#f08080", "strokeWidth": 11, "strokeDash": [60, 22, 8, 22], "invalid": "break-paths-filter-domains"},
     "encoding": {"y": {"field": "pr", "type": "quantitative", "scale": {"domain": [3.3506, 3.9416], "nice": false, "zero": false}, "axis": {"orient": "right", "values": [3.4, 3.5, 3.6, 3.7, 3.8, 3.9], "format": ".1f", "title": "Price", "titleAngle": 270, "titleBaseline": "top", "titlePadding": 30, "offset": 4, "labelPadding": 24, "grid": true, "gridDash": [10, 5]}}}},
    {"mark": {"type": "line", "color": "#8fbc8f", "strokeWidth": 11, "strokeDash": [60, 22, 8, 22], "invalid": "break-paths-filter-domains"},
     "encoding": {"y": {"field": "pg", "type": "quantitative", "scale": {"domain": [3.3506, 3.9416], "nice": false, "zero": false}, "axis": {"orient": "right", "values": [3.4, 3.5, 3.6, 3.7, 3.8, 3.9], "format": ".1f", "title": "Price", "titleAngle": 270, "titleBaseline": "top", "titlePadding": 30, "offset": 4, "labelPadding": 24, "grid": true, "gridDash": [10, 5]}}}}
  ]
},
{
  "width": 2872, "height": 360,
  "mark": {"type": "bar", "size": 21.6, "clip": true},
  "encoding": {
    "x": {"field": "i", "type": "quantitative", "scale": {"domain": [-6.7, 126], "nice": false, "zero": false}, "axis": {"values": [0, 20, 40, 60, 80, 100, 120], "labels": false, "ticks": false, "domain": false, "grid": true, "gridDash": [15, 6.5], "title": null}},
    "y": {"field": "v", "type": "quantitative", "scale": {"domain": [0.0452, 1.369], "nice": false, "zero": false},
      "axis": {"orient": "right", "values": [0.5, 1.0], "format": ".1f", "title": "Volume  10⁶", "titleAngle": 270, "titleBaseline": "top", "titlePadding": 30, "offset": 4, "labelPadding": 24, "grid": true}},
    "y2": {"datum": 0},
    "color": {"field": "vc", "type": "nominal", "scale": {"domain": ["u", "d"], "range": ["#007a00", "#d10f1e"]}, "legend": null}
  }
},
{
  "width": 2872, "height": 375,
  "encoding": {"x": {"field": "i", "type": "quantitative", "scale": {"domain": [-6.7, 126], "nice": false, "zero": false}, "axis": {"values": [0, 20, 40, 60, 80, 100, 120], "labels": false, "ticks": false, "domain": false, "grid": true, "gridDash": [15, 6.5], "title": null}}},
  "layer": [
    {"data": {"name": "cl"}, "mark": {"type": "rule", "strokeWidth": 6.5},
     "encoding": {"x": {"field": "x0", "type": "quantitative", "scale": {"domain": [-6.7, 126], "nice": false, "zero": false}, "axis": {"values": [0, 20, 40, 60, 80, 100, 120], "labels": false, "ticks": false, "domain": false, "grid": true, "gridDash": [15, 6.5], "title": null}}, "x2": {"field": "x1"},
       "y": {"field": "y", "type": "quantitative", "scale": {"domain": [-402.9, 233.8], "nice": false, "zero": false},
         "axis": {"orient": "left", "values": [0, -250], "labelExpr": "datum.value < 0 ? '−' + format(-datum.value, 'd') : format(datum.value, 'd')", "title": null, "offset": 12, "labelPadding": 22, "grid": true}},
       "color": {"field": "k", "type": "nominal", "scale": {"domain": ["z", "g", "r"], "range": ["#e3e3e3", "#7fbf7f", "#ff7f7f"]}, "legend": null}}},
    {"mark": {"type": "line", "color": "#bfbfbf", "strokeWidth": 5.5},
     "encoding": {"y": {"field": "cci", "type": "quantitative", "scale": {"domain": [-402.9, 233.8], "nice": false, "zero": false},
       "axis": {"orient": "right", "values": [0, -250], "labelExpr": "datum.value < 0 ? '−' + format(-datum.value, 'd') : format(datum.value, 'd')", "title": null, "offset": 4, "labelPadding": 24, "grid": false}}}}
  ],
  "resolve": {"scale": {"y": "independent"}}
},
{
  "width": 2872, "height": 371,
  "encoding": {"x": {"field": "i", "type": "quantitative", "scale": {"domain": [-6.7, 126], "nice": false, "zero": false},
    "axis": {"values": [0, 20, 40, 60, 80, 100, 120], "labelExpr": "datum.value == 0 ? '2023-Sep-08' : datum.value == 20 ? '2023-Oct-06' : datum.value == 40 ? '2023-Nov-03' : datum.value == 60 ? '2023-Dec-01' : datum.value == 80 ? '2024-Jan-03' : datum.value == 100 ? '2024-Jan-31' : ''",
      "labelAngle": -45, "labelAlign": "center", "labelBaseline": "middle", "labelPadding": 194, "ticks": true, "tickSize": 19, "tickWidth": 4, "domain": false, "grid": true, "gridDash": [15, 6.5], "title": null, "labelOverlap": false, "labelFlush": false, "labelBound": false}}},
  "layer": [
    {"mark": {"type": "bar", "size": 17, "opacity": 0.6},
     "encoding": {"y": {"field": "hs", "type": "quantitative", "scale": {"domain": [-1.08, 1.05], "nice": false, "zero": false},
       "axis": {"orient": "right", "values": [-1, 0, 1], "labelExpr": "datum.value < 0 ? '−' + format(-datum.value, 'd') : format(datum.value, 'd')", "title": null, "offset": 4, "labelPadding": 24, "grid": true}},
       "y2": {"datum": 0},
       "color": {"condition": {"test": "datum.hs >= 0", "value": "#90ee90"}, "value": "#f08080"}}},
    {"mark": {"type": "line", "color": "red", "opacity": 0.6, "strokeWidth": 7.5},
     "encoding": {"y": {"field": "m", "type": "quantitative", "scale": {"domain": [-1.08, 1.05], "nice": false, "zero": false},
       "axis": {"orient": "right", "values": [-1, 0, 1], "labelExpr": "datum.value < 0 ? '−' + format(-datum.value, 'd') : format(datum.value, 'd')", "title": null, "offset": 4, "labelPadding": 24, "grid": true}}}}
  ]
}
]
}
